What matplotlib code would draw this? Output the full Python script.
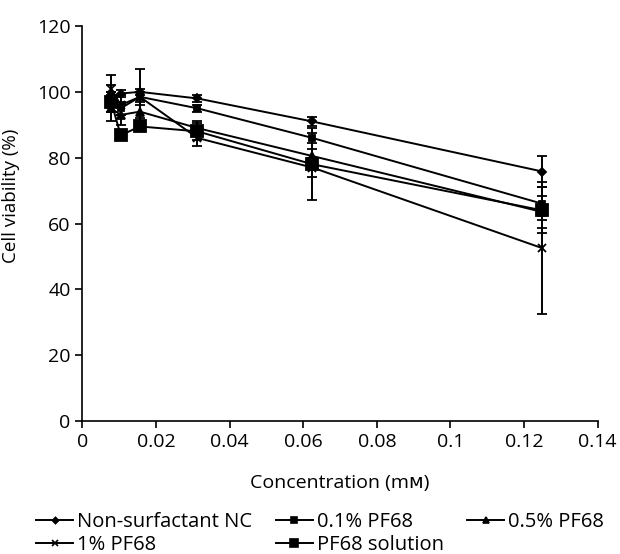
import matplotlib
matplotlib.use('Agg')
import matplotlib.pyplot as plt
from matplotlib.lines import Line2D

plt.rcParams['font.family'] = ['Open Sans', 'DejaVu Sans']

# Dane
conc = [0.0078, 0.0104, 0.0156, 0.03125, 0.0625, 0.125]

nc_vals = [97, 99.5, 100, 98, 91, 75.8]
nc_err = [3, 1, 1, 1, 1.5, 4.8]

pf01_vals = [99, 95, 98.5, 95, 86, 66]
pf01_err = [3, 2, 1.5, 1, 1.5, 5]

pf05_vals = [95, 93, 94, 89, 80.5, 63.5]
pf05_err = [4, 3, 2, 2, 2, 5]

pf1_vals = [101, 96, 98.5, 86, 77, 52.5]
pf1_err = [4, 3, 8.5, 2.5, 3, 20]

sol_vals = [97, 86.8, 89.5, 88, 78, 64]
sol_err = [3, 1.5, 1.5, 2.5, 11, 7]

labels = ['Non-surfactant NC', '0.1% PF68', '0.5% PF68', '1% PF68', 'PF68 solution']

fig = plt.figure(figsize=(6.2, 5.54), dpi=100)
ax = fig.add_axes([0.133, 0.24, 0.831, 0.713])

series = [
    (nc_vals, nc_err, 'D', 4),
    (pf01_vals, pf01_err, 's', 5),
    (pf05_vals, pf05_err, '^', 6),
    (pf1_vals, pf1_err, 'x', 6),
    (sol_vals, sol_err, 's', 8),
]

handles = []
for (vals, err, m, ms), lab in zip(series, labels):
    ax.errorbar(conc, vals, yerr=err, color='black', marker=m, markersize=ms,
                linewidth=1.4, elinewidth=1.4, capsize=3.5, capthick=1.4,
                markeredgewidth=1.3)
    handles.append(Line2D([], [], color='black', marker=m, markersize=ms * 0.8,
                          linewidth=1.4, markeredgewidth=1.2))

ax.set_xlim(0, 0.14)
ax.set_ylim(0, 120)
ax.set_xticks([0, 0.02, 0.04, 0.06, 0.08, 0.1, 0.12, 0.14])
ax.set_xticklabels(['0', '0.02', '0.04', '0.06', '0.08', '0.1', '0.12', '0.14'])
ax.set_yticks([0, 20, 40, 60, 80, 100, 120])
ax.spines['top'].set_visible(False)
ax.spines['right'].set_visible(False)
ax.spines['left'].set_linewidth(1.2)
ax.spines['bottom'].set_linewidth(1.2)
ax.tick_params(direction='out', length=5, width=1.2, labelsize=14, colors='black')
ax.set_xlabel('Concentration (mᴍ)', fontsize=14, labelpad=17)
ax.set_ylabel('Cell viability (%)', fontsize=13.5)
ax.yaxis.set_label_coords(-0.122, 0.57)

# kolejność wierszami: NC, 0.1%, 0.5% / 1%, roztwór
order = [0, 3, 1, 4, 2]
fig.legend([handles[i] for i in order], [labels[i] for i in order],
           loc='upper left', bbox_to_anchor=(0.058, 0.075), ncol=3,
           frameon=False, fontsize=14.5, handlelength=1.85, handletextpad=0.2,
           columnspacing=1.15, labelspacing=0.12, borderpad=0, borderaxespad=0)

fig.savefig('out.png', dpi=100)
